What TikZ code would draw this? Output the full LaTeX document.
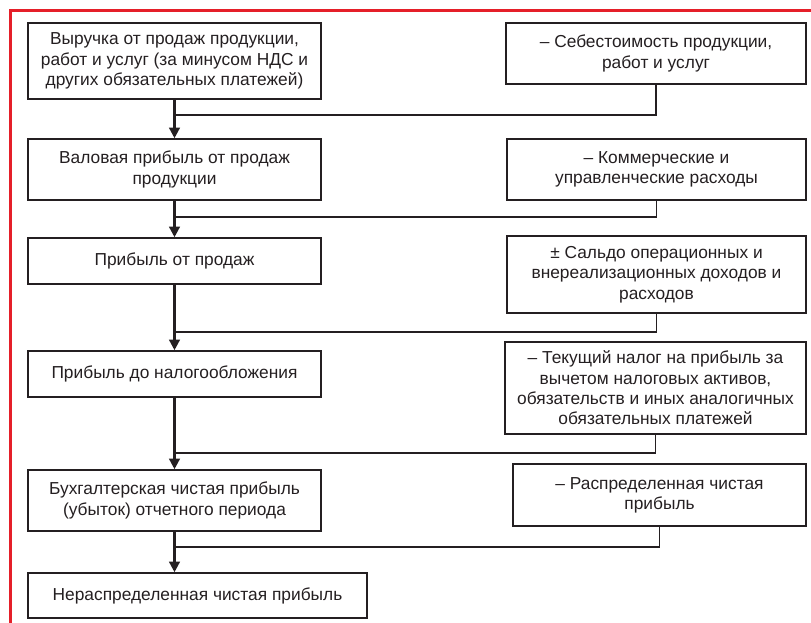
\documentclass[tikz,border=0pt]{standalone}
\usepackage{fontspec}
\setmainfont{Liberation Sans}
\usepackage{xcolor}
\definecolor{frame}{rgb}{0.90, 0.12, 0.16}
\definecolor{ink}{rgb}{0.14, 0.12, 0.13}
\usetikzlibrary{arrows.meta}

\begin{document}
\begin{tikzpicture}[x = 0.03cm, y = -0.03cm,
	box/.style = {draw = ink, line width = 1.3pt, align = center, text = ink, inner sep = 0pt,
		font = \fontsize{14.8}{17.3}\selectfont},
	flow/.style = {draw = ink, line width = 2pt, -{Triangle[width = 9pt, length = 9pt]}},
	feed/.style = {draw = ink, line width = 1pt}]

	\useasboundingbox (0,0) rectangle (811,623);
	\draw [frame, line width = 2.5pt] 	(811,10.5) -- (10.5,10.5) -- (10.5,623);

	% left column
	\node [box, minimum width = 8.79cm, minimum height = 2.28cm] (revenue) at (174.5,61)
		{Выручка от продаж продукции,\\ работ и услуг (за минусом НДС и\\ других обязательных платежей)};
	\node [box, minimum width = 8.79cm, minimum height = 1.83cm] (gross) at (174.5,169.5)
		{Валовая прибыль от продаж\\ продукции};
	\node [box, minimum width = 8.79cm, minimum height = 1.38cm] (sales) at (174.5,261)
		{Прибыль от продаж};
	\node [box, minimum width = 8.79cm, minimum height = 1.38cm] (pretax) at (174.5,374)
		{Прибыль до налогообложения};
	\node [box, minimum width = 8.79cm, minimum height = 1.83cm] (netprofit) at (174.5,500.5)
		{Бухгалтерская чистая прибыль\\ (убыток) отчетного периода};
	\node [box, minimum width = 10.17cm, minimum height = 1.35cm] (retained) at (197.5,595.5)
		{Нераспределенная чистая прибыль};

	% right column
	\node [box, minimum width = 9.0cm, minimum height = 1.83cm] (cost) at (656,53.5)
		{– Себестоимость продукции,\\ работ и услуг};
	\node [box, minimum width = 8.97cm, minimum height = 1.83cm] (selling) at (656.5,169.5)
		{– Коммерческие и\\ управленческие расходы};
	\node [box, minimum width = 8.97cm, minimum height = 2.31cm] (balance) at (656.5,274.5)
		{± Сальдо операционных и\\ внереализационных доходов и\\ расходов};
	\node [box, minimum width = 9.03cm, minimum height = 2.76cm] (tax) at (655.5,388)
		{– Текущий налог на прибыль за\\ вычетом налоговых активов,\\ обязательств и иных аналогичных\\ обязательных платежей};
	\node [box, minimum width = 8.79cm, minimum height = 1.86cm] (dividend) at (659.5,495)
		{– Распределенная чистая\\ прибыль};

	\coordinate (j1) at (174.5,115);
	\coordinate (j2) at (174.5,217);
	\coordinate (j3) at (174.5,332);
	\coordinate (j4) at (174.5,453);
	\coordinate (j5) at (174.5,547);

	\draw [flow] 	(revenue) -- (gross);
	\draw [flow] 	(gross) -- (sales);
	\draw [flow] 	(sales) -- (pretax);
	\draw [flow] 	(pretax) -- (netprofit);
	\draw [flow] 	(netprofit.south) -- (netprofit.south |- retained.north);

	\draw [feed] 	(cost.south) |- (j1);
	\draw [feed] 	(selling.south) |- (j2);
	\draw [feed] 	(balance.south) |- (j3);
	\draw [feed] 	(tax.south) |- (j4);
	\draw [feed] 	(dividend.south) |- (j5);

\end{tikzpicture}
\end{document}
